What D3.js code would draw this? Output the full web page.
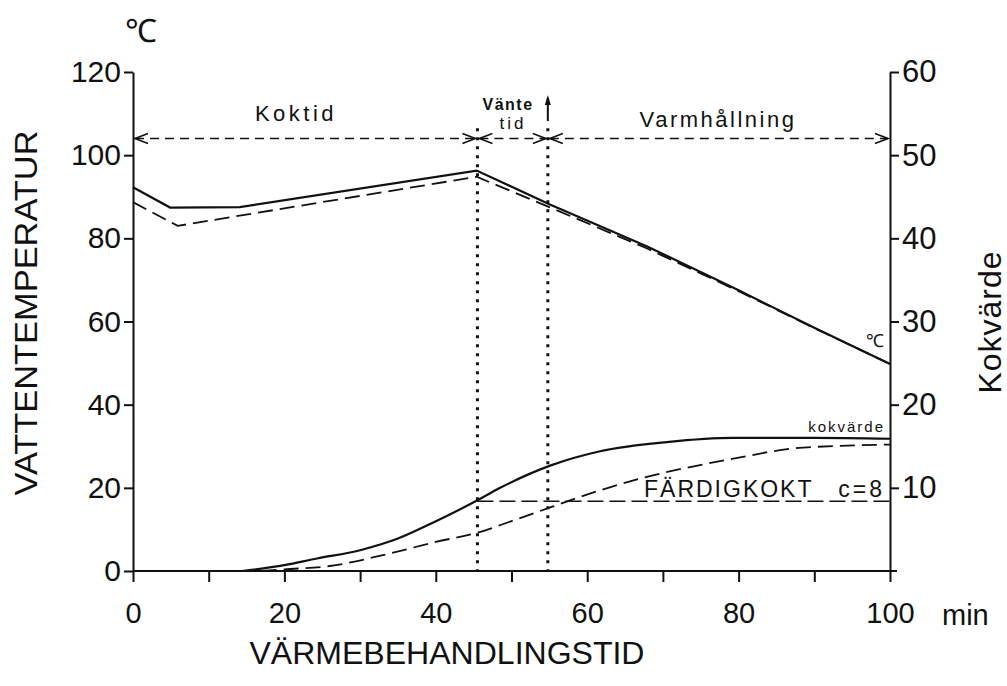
<!DOCTYPE html>
<html>
<head>
<meta charset="utf-8">
<script src="https://cdn.jsdelivr.net/npm/d3@7"></script>
<style>
  body { margin: 0; background: #fff; }
  text { font-family: "Liberation Sans", Arial, sans-serif; fill: #111; }
</style>
</head>
<body>
<svg id="chart" width="1007" height="686"></svg>
<script>
// time (min), water temperature (°C)
const tempSolid = [[0, 92.3], [4.9, 87.4], [14.1, 87.5], [45.4, 96.3], [55, 88.2], [68, 78], [80, 67.5], [90, 58.5], [100, 49.8]];
const tempDashed = [[0, 88.7], [5.9, 83], [45.4, 94.8], [55, 87.5], [68, 77.5], [80, 67.3], [90, 58.4], [100, 49.8]];
// time (min), kokvärde
const kokSolid = [[14.4, 0], [20, 0.7], [24.3, 1.5], [30, 2.5], [35, 3.9], [39.6, 5.8], [45.5, 8.5], [48.5, 10], [55.2, 12.7], [61.7, 14.4], [70.5, 15.5], [79.3, 16], [90, 16], [100, 15.9]];
const kokDashed = [[17, 0], [20, 0.2], [26, 0.6], [33, 1.9], [40, 3.5], [45.5, 4.6], [50, 6], [55.3, 7.7], [61.7, 9.7], [67.4, 11.2], [79.3, 13.5], [88, 14.8], [100, 15.2]];

const phaseBounds = [0, 45.5, 54.8, 100];
const phaseArrowTemp = 104;
const doneKok = 8.4;

const xTicks = [0, 20, 40, 60, 80, 100];
const xMinor = [10, 30, 50, 70, 90];
const yLeftTicks = [0, 20, 40, 60, 80, 100, 120];
const yRightTicks = [10, 20, 30, 40, 50, 60];

const svg = d3.select('#chart');

const x = d3.scaleLinear().domain([0, 100]).range([133, 890]);
const yL = d3.scaleLinear().domain([0, 120]).range([571, 72]);
const yR = d3.scaleLinear().domain([0, 60]).range([571, 72]);

// axes
const gx = svg.append('g')
  .attr('transform', `translate(0,${yL(0)})`)
  .call(d3.axisBottom(x).tickValues(xTicks.concat(xMinor)).tickSize(11).tickSizeOuter(0).tickPadding(20)
    .tickFormat(d => xTicks.includes(d) ? d : ''))
  .call(g => g.selectAll('text').attr('font-size', 29));
gx.select('.domain').attr('d', `M${x(0)},0H${x(100) + 7}`);

const gl = svg.append('g')
  .attr('transform', `translate(${x(0)},0)`)
  .call(d3.axisLeft(yL).tickValues(yLeftTicks).tickSize(9).tickSizeOuter(0).tickPadding(3))
  .call(g => g.selectAll('text').attr('font-size', 30));

const gr = svg.append('g')
  .attr('transform', `translate(${x(100)},0)`)
  .call(d3.axisRight(yR).tickValues(yRightTicks).tickSize(9).tickSizeOuter(0).tickPadding(3))
  .call(g => g.selectAll('text').attr('font-size', 31));

svg.selectAll('.domain, .tick line').attr('stroke', '#111').attr('stroke-width', 2);

// curves
const lineT = d3.line().x(d => x(d[0])).y(d => yL(d[1]));
const lineK = d3.line().x(d => x(d[0])).y(d => yR(d[1])).curve(d3.curveMonotoneX);

svg.append('path').datum(tempDashed).attr('d', lineT)
  .attr('fill', 'none').attr('stroke', '#111').attr('stroke-width', 1.8).attr('stroke-dasharray', '15,7');
svg.append('path').datum(tempSolid).attr('d', lineT)
  .attr('fill', 'none').attr('stroke', '#111').attr('stroke-width', 2.2);
svg.append('path').datum(kokDashed).attr('d', lineK)
  .attr('fill', 'none').attr('stroke', '#111').attr('stroke-width', 1.8).attr('stroke-dasharray', '15,7');
svg.append('path').datum(kokSolid).attr('d', lineK)
  .attr('fill', 'none').attr('stroke', '#111').attr('stroke-width', 2.2);

// färdigkokt line
svg.append('line')
  .attr('x1', x(phaseBounds[1])).attr('x2', x(100))
  .attr('y1', yR(doneKok)).attr('y2', yR(doneKok))
  .attr('stroke', '#111').attr('stroke-width', 1.5).attr('stroke-dasharray', '16,6');

// dotted phase boundaries
[phaseBounds[1], phaseBounds[2]].forEach(t => {
  svg.append('line')
    .attr('x1', x(t)).attr('x2', x(t))
    .attr('y1', yL(106.5)).attr('y2', yL(0))
    .attr('stroke', '#111').attr('stroke-width', 3).attr('stroke-dasharray', '3,6');
});

// phase arrows
const ay = yL(phaseArrowTemp);
function head(px, py, dir) {
  svg.append('path')
    .attr('d', `M${px - dir * 13},${py - 5}L${px},${py}L${px - dir * 13},${py + 5}`)
    .attr('fill', 'none').attr('stroke', '#111').attr('stroke-width', 1.6);
}
for (let i = 0; i < phaseBounds.length - 1; i++) {
  const a = x(phaseBounds[i]) + 2, b = x(phaseBounds[i + 1]) - 2;
  svg.append('line').attr('x1', a).attr('x2', b).attr('y1', ay).attr('y2', ay)
    .attr('stroke', '#111').attr('stroke-width', 1.6).attr('stroke-dasharray', '9,6');
  head(a, ay, -1);
  head(b, ay, 1);
}
// small up arrow on second boundary
const ux = x(phaseBounds[2]);
svg.append('line').attr('x1', ux).attr('x2', ux).attr('y1', 121).attr('y2', 98)
  .attr('stroke', '#111').attr('stroke-width', 2);
svg.append('path').attr('d', `M${ux - 3},${105}L${ux},${95}L${ux + 3},${105}Z`).attr('fill', '#111');

// texts
const T = (tx, ty, s, size, anchor, extra) => {
  const t = svg.append('text').attr('x', tx).attr('y', ty).attr('font-size', size)
    .attr('text-anchor', anchor || 'start').text(s);
  if (extra) extra(t);
  return t;
};
T(125, 42, '℃', 32, 'start');
T(296, 121, 'Koktid', 22, 'middle', t => t.attr('letter-spacing', 3.5));
T(508, 110, 'Vänte', 16, 'middle', t => t.attr('letter-spacing', 1.5).attr('font-weight', 'bold'));
T(513, 129, 'tid', 17, 'middle', t => t.attr('letter-spacing', 3));
T(718, 127, 'Varmhållning', 22, 'middle', t => t.attr('letter-spacing', 2.5));
T(884, 347, '℃', 18, 'end');
T(885, 432, 'kokvärde', 15, 'end', t => t.attr('letter-spacing', 2));
T(644, 497, 'FÄRDIGKOKT', 23, 'start', t => t.attr('letter-spacing', 2));
T(885, 497, 'c=8', 23, 'end', t => t.attr('letter-spacing', 3));
T(942, 625, 'min', 29, 'start');
T(447, 664, 'VÄRMEBEHANDLINGSTID', 31, 'middle', t => t.attr('textLength', 395).attr('lengthAdjust', 'spacingAndGlyphs'));
T(0, 0, 'VATTENTEMPERATUR', 32, 'middle', t => t.attr('transform', 'translate(37,313) rotate(-90)').attr('textLength', 365).attr('lengthAdjust', 'spacingAndGlyphs'));
T(0, 0, 'Kokvärde', 32, 'middle', t => t.attr('transform', 'translate(1001,322) rotate(-90)').attr('letter-spacing', 1));
</script>
</body>
</html>
